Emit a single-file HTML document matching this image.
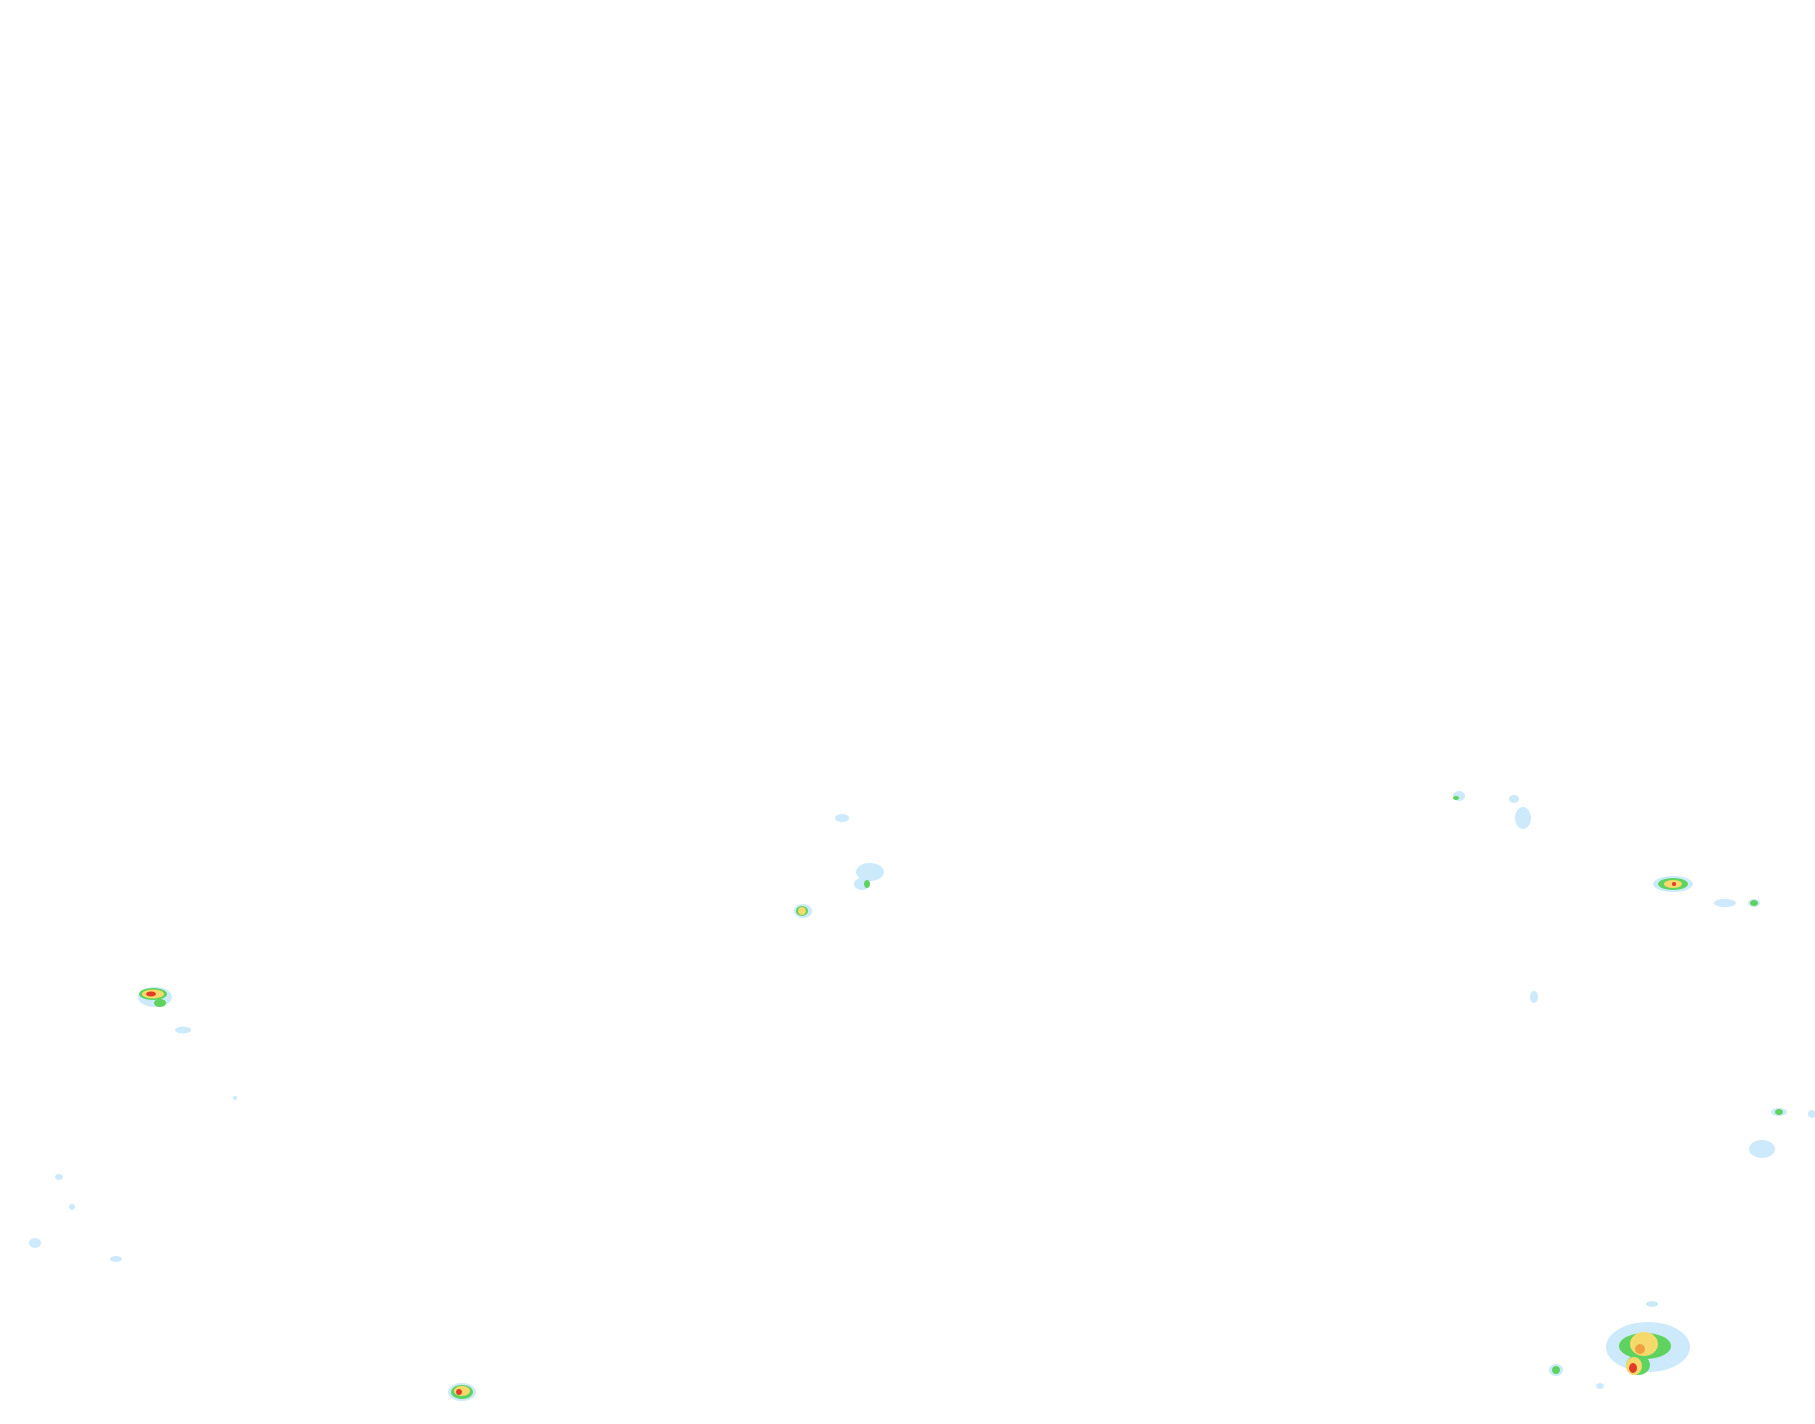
<!DOCTYPE html>
<html><head><meta charset="utf-8"><style>html,body{margin:0;padding:0;background:#fff;width:1815px;height:1424px;overflow:hidden}</style></head>
<body>
<svg width="1815" height="1424" viewBox="0 0 1815 1424" xmlns="http://www.w3.org/2000/svg">
<g fill="#cdeafd">
<ellipse cx="155" cy="997" rx="17" ry="10"/>
<ellipse cx="183" cy="1030" rx="8" ry="3.5"/>
<ellipse cx="803" cy="911" rx="9" ry="7"/>
<ellipse cx="870" cy="872" rx="14" ry="9"/>
<ellipse cx="862" cy="884" rx="8" ry="6"/>
<ellipse cx="842" cy="818" rx="7" ry="4"/>
<ellipse cx="1459" cy="796" rx="6" ry="5"/>
<ellipse cx="1514" cy="799" rx="5" ry="4"/>
<ellipse cx="1523" cy="818" rx="8" ry="11"/>
<ellipse cx="1673" cy="884" rx="20" ry="8"/>
<ellipse cx="1725" cy="903" rx="11" ry="4"/>
<ellipse cx="1754" cy="903" rx="6" ry="4"/>
<ellipse cx="1534" cy="997" rx="4" ry="6"/>
<ellipse cx="1779" cy="1112" rx="8" ry="4"/>
<ellipse cx="1812" cy="1114" rx="4" ry="4"/>
<ellipse cx="1762" cy="1149" rx="13" ry="9"/>
<ellipse cx="1648" cy="1347" rx="42" ry="25"/>
<ellipse cx="1652" cy="1304" rx="6" ry="3"/>
<ellipse cx="1556" cy="1370" rx="7" ry="6"/>
<ellipse cx="1600" cy="1386" rx="4" ry="3"/>
<ellipse cx="462" cy="1392" rx="14" ry="9"/>
<ellipse cx="35" cy="1243" rx="6" ry="5"/>
<ellipse cx="59" cy="1177" rx="4" ry="3"/>
<ellipse cx="72" cy="1207" rx="3" ry="3"/>
<ellipse cx="116" cy="1259" rx="6" ry="3"/>
<ellipse cx="235" cy="1098" rx="2" ry="2"/>
</g>
<g fill="#5fd35f">
<ellipse cx="153" cy="994" rx="14" ry="6"/>
<ellipse cx="160" cy="1003" rx="6" ry="4"/>
<ellipse cx="802" cy="911" rx="6" ry="5"/>
<ellipse cx="867" cy="884" rx="3" ry="4"/>
<ellipse cx="1456" cy="798" rx="3" ry="2"/>
<ellipse cx="1673" cy="884" rx="15" ry="6"/>
<ellipse cx="1754" cy="903" rx="4" ry="3"/>
<ellipse cx="1779" cy="1112" rx="4" ry="3"/>
<ellipse cx="1645" cy="1346" rx="26" ry="13"/>
<ellipse cx="1638" cy="1365" rx="12" ry="10"/>
<ellipse cx="1556" cy="1370" rx="4" ry="4"/>
<ellipse cx="462" cy="1392" rx="11" ry="7"/>
</g>
<g fill="#f5d96b">
<ellipse cx="153" cy="994" rx="11" ry="4.5"/>
<ellipse cx="802" cy="911" rx="4" ry="4"/>
<ellipse cx="1673" cy="884" rx="9" ry="4"/>
<ellipse cx="1644" cy="1344" rx="14" ry="12"/>
<ellipse cx="1634" cy="1366" rx="8" ry="9"/>
<ellipse cx="462" cy="1391" rx="8" ry="5"/>
</g>
<g fill="#e33b2a">
<ellipse cx="151" cy="994" rx="5" ry="2.5"/>
<ellipse cx="1674" cy="884" rx="2" ry="2"/>
<ellipse cx="1633" cy="1368" rx="4" ry="5"/>
<ellipse cx="459" cy="1392" rx="3" ry="3"/>
</g>
<ellipse cx="1640" cy="1349" rx="5" ry="5" fill="#eea040"/>
</svg>
</body></html>
